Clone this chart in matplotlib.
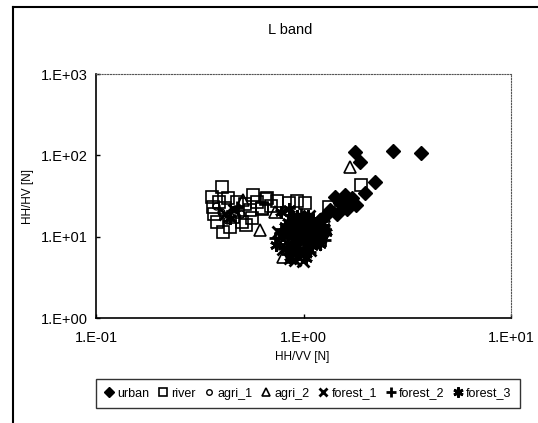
import matplotlib
matplotlib.use("Agg")
import matplotlib.pyplot as plt
from matplotlib.lines import Line2D
from matplotlib.ticker import FixedLocator, FixedFormatter, NullLocator

plt.rcParams['font.family'] = ['Liberation Sans', 'DejaVu Sans']

title = "L band"
xlabel = "HH/VV [N]"
ylabel = "HH/HV [N]"
xticks = [0.1, 1, 10]
xticklabels = ["1.E-01", "1.E+00", "1.E+01"]
yticks = [1, 10, 100, 1000]
yticklabels = ["1.E+00", "1.E+01", "1.E+02", "1.E+03"]

urban_x = [1.77, 2.70, 3.68, 1.87, 2.21, 1.98, 1.80, 1.58, 1.42, 1.50, 1.34, 1.28, 1.67, 1.20, 1.14, 1.72, 1.62, 1.45, 1.10, 1.25]
urban_y = [111, 114, 108, 82, 47.5, 34, 24.5, 32.6, 31, 26, 21.3, 18.5, 28.3, 16, 14, 30, 22, 19, 12, 11]

river_x = [0.404, 0.361, 0.433, 0.571, 0.665, 0.367, 0.419, 0.552, 0.629, 0.562, 0.503, 0.410, 0.382, 0.457, 0.745,
           0.927, 1.02, 0.66, 0.63, 1.9, 1.33, 0.48, 0.39, 0.52, 0.60, 0.70, 0.85, 0.37, 0.44, 0.53]
river_y = [41.2, 31, 29.9, 32.6, 29.7, 23.4, 22.5, 21.3, 22.4, 16.8, 15.3, 11.5, 15.3, 17.6, 27.7,
           27.7, 26, 29, 22, 43, 23, 27, 27, 25, 27, 24, 26, 19, 13, 14]

agri1_x = [0.40, 0.44, 0.47, 0.38, 0.43, 0.50, 0.92, 1.00, 0.95, 0.88]
agri1_y = [20, 18, 22, 24, 16, 19, 11, 9, 13, 8]

agri2_x = [0.513, 0.617, 0.73, 1.67, 0.796, 0.47, 0.83, 1.25]
agri2_y = [28.3, 12.1, 20.3, 72, 5.6, 20, 12, 18]

forest1_x = [0.82, 0.88, 0.93, 0.97, 1.02, 1.08, 1.15, 0.85, 0.90, 0.95, 1.00, 1.05, 1.12, 1.20, 0.78, 0.92,
             0.98, 1.03, 1.10, 0.87, 0.95, 1.01, 1.07, 0.42, 0.46,
             0.75, 0.80, 0.86, 0.91, 0.96, 1.00, 1.04, 1.09, 1.14, 1.19, 1.24, 0.84, 0.89, 0.99, 1.06, 1.13,
             0.94, 1.17]
forest1_y = [8.5, 9.2, 7.8, 10.5, 8.0, 9.5, 11.0, 12.5, 6.5, 11.8, 13.0, 7.2, 8.8, 10.0, 9.8, 14.5,
             6.0, 15.5, 12.0, 7.0, 9.0, 10.8, 6.8, 19, 21,
             11.5, 7.0, 5.5, 5.2, 12.8, 16.5, 11.6, 14.2, 8.2, 12.5, 14.8, 10.8, 15.2, 5.0, 18.0, 16.5,
             17.5, 9.2]

forest2_x = [0.80, 0.86, 0.91, 0.96, 1.00, 1.06, 1.12, 1.18, 0.84, 0.89, 0.94, 0.99, 1.04, 1.09, 1.16, 0.76,
             0.93, 0.98, 1.02, 1.25, 0.48,
             0.73, 0.78, 0.83, 0.88, 0.95, 1.03, 1.08, 1.14, 1.21, 1.27, 0.87, 0.92, 1.01, 1.11, 0.97]
forest2_y = [11.0, 7.5, 10.0, 8.3, 12.0, 10.5, 9.0, 12.8, 9.6, 13.5, 6.3, 7.0, 14.0, 8.0, 11.5, 8.2,
             16.5, 9.8, 5.8, 13.5, 23,
             9.5, 12.5, 6.2, 16.0, 10.8, 15.0, 6.5, 13.2, 10.2, 9.0, 18.5, 5.4, 11.0, 17.0, 19.0]

forest3_x = [0.83, 0.88, 0.94, 0.99, 1.04, 1.10, 1.17, 1.22, 0.86, 0.91, 0.97, 1.01, 1.07, 1.13, 0.79, 0.96,
             1.00, 1.05, 0.90, 1.28, 0.44, 0.78, 0.85,
             0.74, 0.81, 0.87, 0.93, 1.02, 1.08, 1.15, 1.20, 1.26, 0.89, 0.98, 1.11, 0.84, 1.03]
forest3_y = [7.2, 10.2, 9.0, 11.2, 9.4, 7.6, 10.5, 15.0, 5.6, 8.0, 13.8, 17.0, 12.2, 14.0, 10.6, 6.2,
             8.6, 18.0, 15.5, 11.5, 17, 20, 22,
             8.0, 13.5, 12.0, 18.0, 6.6, 9.8, 12.8, 8.2, 13.0, 6.8, 15.8, 16.0, 15.0, 5.5]

W, H = 538, 423
fig = plt.figure(figsize=(W / 100, H / 100), dpi=100)
fig.patch.set_facecolor('white')

ax = fig.add_axes([96 / W, 1 - 318 / H, (511 - 96) / W, (318 - 74) / H])
ax.set_xscale('log')
ax.set_yscale('log')

ax.plot(urban_x, urban_y, ls='none', marker='D', ms=7, mfc='black', mec='black', label='urban')
ax.plot(river_x, river_y, ls='none', marker='s', ms=8, mfc='none', mec='black', mew=1.2, label='river')
ax.plot(agri1_x, agri1_y, ls='none', marker='o', ms=5, mfc='none', mec='black', mew=1.0, label='agri_1')
ax.plot(agri2_x, agri2_y, ls='none', marker='^', ms=8, mfc='none', mec='black', mew=1.2, label='agri_2')
ax.plot(forest1_x, forest1_y, ls='none', marker='x', ms=8, mec='black', mew=2.0, label='forest_1')
ax.plot(forest2_x, forest2_y, ls='none', marker='+', ms=9, mec='black', mew=2.0, label='forest_2')
ax.plot(forest3_x, forest3_y, ls='none', marker=(6, 2, 0), ms=9, mec='black', mew=2.0, label='forest_3')

ax.set_xlim(0.1, 10)
ax.set_ylim(1, 1000)
ax.xaxis.set_major_locator(FixedLocator(xticks))
ax.xaxis.set_major_formatter(FixedFormatter(xticklabels))
ax.yaxis.set_major_locator(FixedLocator(yticks))
ax.yaxis.set_major_formatter(FixedFormatter(yticklabels))
ax.xaxis.set_minor_locator(NullLocator())
ax.yaxis.set_minor_locator(NullLocator())
ax.tick_params(axis='both', which='major', direction='in', length=3, width=1, labelsize=10.5, colors='black')
ax.tick_params(axis='y', pad=6)
ax.tick_params(axis='x', pad=9)

for s in ['left', 'bottom']:
    ax.spines[s].set_color('black')
    ax.spines[s].set_linewidth(1.2)
for s in ['top', 'right']:
    ax.spines[s].set_color('#555555')
    ax.spines[s].set_linewidth(0.8)
    ax.spines[s].set_linestyle((0, (1, 1.5)))

fig.text(290 / W, 1 - 30 / H, title, ha='center', va='center', fontsize=10.5)
fig.text(302 / W, 1 - 357 / H, xlabel, ha='center', va='center', fontsize=8.5)
fig.text(28 / W, 1 - 196 / H, ylabel, ha='center', va='center', rotation=90, fontsize=8.5)

leg = fig.legend(loc='center', bbox_to_anchor=(308 / W, 1 - 393.5 / H), ncol=7, fontsize=9,
                 frameon=True, fancybox=False, edgecolor='black', handlelength=0.7,
                 handletextpad=0.3, columnspacing=0.75, borderpad=0.7, borderaxespad=0,
                 markerscale=0.8)
leg.get_frame().set_linewidth(1.0)

# outer chart frame (partially visible)
fig.add_artist(Line2D([12.5 / W, 12.5 / W], [0, 1 - 7 / H], color='black', lw=1.5))
fig.add_artist(Line2D([12.5 / W, 1], [1 - 7 / H, 1 - 7 / H], color='black', lw=1.5))

fig.savefig('out.png', dpi=100)
